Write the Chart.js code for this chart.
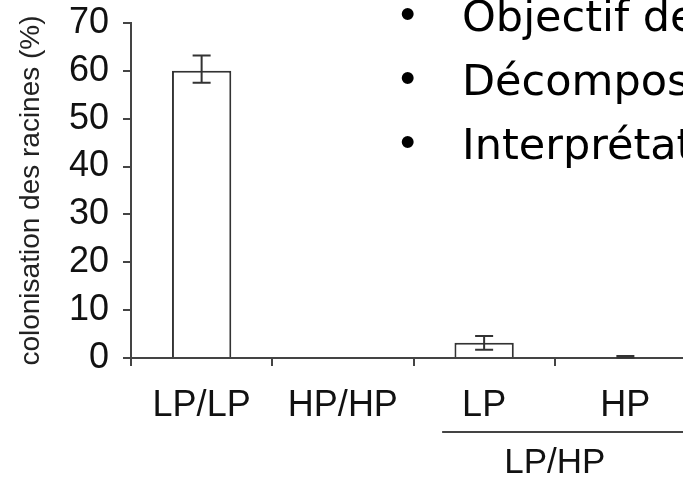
<!DOCTYPE html>
<html>
<head>
<meta charset="utf-8">
<script src="https://cdn.jsdelivr.net/npm/chart.js@4"></script>
<style>
  html, body { margin: 0; padding: 0; background: #fff; overflow: hidden; }
  #wrap { position: relative; width: 683px; height: 480px; overflow: hidden; }
  #chart { position: absolute; left: 0; top: 0; }
  .item { position: absolute; left: 0; height: 44px; line-height: 44px; white-space: nowrap; color: #000; }
  .dot { position: absolute; left: 400px; top: -2px; font-family: "Liberation Sans", Arial, sans-serif; font-size: 44px; }
  .txt { position: absolute; left: 462px; font-family: "DejaVu Sans", sans-serif; font-size: 43px; }
</style>
</head>
<body>
<div id="wrap">
  <canvas id="chart" width="700" height="480"></canvas>
  <div id="bullets"></div>
</div>
<script>
// data
const categories = ['LP/LP', 'HP/HP', 'LP', 'HP'];
const colonisation = [60, 0, 3.2, 0.2];
const errLow = [57.5, null, 1.7, 0.1];
const errHigh = [63.2, null, 4.6, 0.4];
const groupLabel = 'LP/HP';
const groupCats = [2, 3];
const bulletLines = ['Objectif de l\u2019étude', 'Décomposition', 'Interprétation'];

const AXIS = '#444';
const INK = '#111';
const FONT = '"Liberation Sans", Arial, sans-serif';

// bullet text at the top right
const bl = document.getElementById('bullets');
bulletLines.forEach((t, i) => {
  const row = document.createElement('div');
  row.className = 'item';
  row.style.top = (-6 + i * 64) + 'px';
  row.innerHTML = '<span class="dot">\u2022</span><span class="txt"></span>';
  row.querySelector('.txt').textContent = t;
  bl.append(row);
});

const errorBars = {
  id: 'errorBars',
  afterDatasetsDraw(chart) {
    const {ctx, scales: {x, y}} = chart;
    ctx.save();
    ctx.strokeStyle = '#333';
    ctx.lineWidth = 2;
    errLow.forEach((lo, i) => {
      if (lo == null) return;
      const px = x.getPixelForValue(i);
      const top = y.getPixelForValue(errHigh[i]);
      const bot = y.getPixelForValue(lo);
      ctx.beginPath();
      ctx.moveTo(px, top); ctx.lineTo(px, bot);
      ctx.moveTo(px - 9, top); ctx.lineTo(px + 9, top);
      ctx.moveTo(px - 9, bot); ctx.lineTo(px + 9, bot);
      ctx.stroke();
    });
    ctx.restore();
  }
};

// bracket line + label under the LP / HP pair
const groupBracket = {
  id: 'groupBracket',
  afterDraw(chart) {
    const {ctx, scales: {x}, chartArea} = chart;
    const a = x.getPixelForValue(groupCats[0]);
    const b = x.getPixelForValue(groupCats[1]);
    const yl = chartArea.bottom + 74;
    ctx.save();
    ctx.strokeStyle = AXIS;
    ctx.lineWidth = 2;
    ctx.beginPath();
    ctx.moveTo(a - 42, yl);
    ctx.lineTo(b + 80, yl);
    ctx.stroke();
    ctx.fillStyle = INK;
    ctx.font = '35px ' + FONT;
    ctx.textAlign = 'center';
    ctx.textBaseline = 'middle';
    ctx.fillText(groupLabel, (a + b) / 2, yl + 31);
    ctx.restore();
  }
};

new Chart(document.getElementById('chart'), {
  type: 'bar',
  data: {
    labels: categories,
    datasets: [{
      data: colonisation,
      backgroundColor: '#fff',
      borderColor: '#333',
      borderWidth: 2,
      borderSkipped: 'start',
      barPercentage: 0.42,
      categoryPercentage: 1
    }]
  },
  options: {
    responsive: false,
    animation: false,
    layout: {padding: {top: 23, right: 4, left: 0, bottom: 0}},
    plugins: {legend: {display: false}, tooltip: {enabled: false}},
    scales: {
      x: {
        grid: {drawOnChartArea: false, tickLength: 8, offset: true, color: AXIS, lineWidth: 2},
        border: {color: AXIS, width: 2},
        ticks: {color: INK, font: {family: FONT, size: 36}, padding: 18},
        afterFit: s => { s.height = 122; }
      },
      y: {
        min: 0,
        max: 70,
        ticks: {stepSize: 10, color: INK, font: {family: FONT, size: 36}, padding: 14},
        grid: {drawOnChartArea: false, tickLength: 8, color: AXIS, lineWidth: 2},
        border: {color: AXIS, width: 2},
        title: {
          display: true,
          text: 'colonisation des racines (%)',
          color: '#222',
          font: {family: FONT, size: 28},
          padding: {top: 14, bottom: 0}
        },
        afterFit: s => { s.width = 131; s.paddingTop = 0; s.paddingBottom = 0; }
      }
    }
  },
  plugins: [errorBars, groupBracket]
});
</script>
</body>
</html>
